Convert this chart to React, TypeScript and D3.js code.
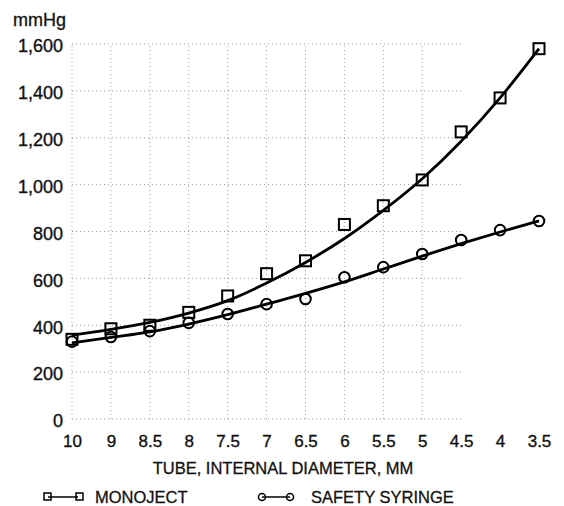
import React, { useEffect, useRef } from "react";
import * as d3 from "d3";

// tube internal diameter, mm (categories, left to right)
const diameters = ["10", "9", "8.5", "8", "7.5", "7", "6.5", "6", "5.5", "5", "4.5", "4", "3.5"];

// measured pressures, mmHg
const monoject = [340, 385, 400, 455, 525, 620, 675, 830, 910, 1020, 1225, 1370, 1580];
const safetySyringe = [330, 350, 375, 410, 448, 490, 512, 605, 648, 704, 764, 806, 845];

// fitted curves
const monojectFit = [358, 382, 412, 452, 505, 580, 668, 770, 890, 1025, 1185, 1370, 1580];
const safetyFit = [325, 348, 372, 405, 445, 490, 536, 585, 640, 695, 748, 798, 845];

const yTicks = [0, 200, 400, 600, 800, 1000, 1200, 1400, 1600];

const FONT = "'Liberation Sans', Arial, sans-serif";

const Chart = () => {
    const svgRef = useRef<SVGSVGElement>(null);

    useEffect(() => {
        const svg = d3.select(svgRef.current);
        svg.selectAll("*").remove();

        const x = d3.scalePoint().domain(diameters).range([72, 539]);
        const y = d3.scaleLinear().domain([0, 1600]).range([419, 44]);
        const gridRight = x("4.5") as number;

        // dotted grid
        const grid = svg.append("g").attr("stroke", "#9a9a9a").attr("stroke-width", 1).attr("stroke-dasharray", "1,3");
        grid.selectAll("line.h")
            .data(yTicks)
            .join("line")
            .attr("x1", x("10") as number)
            .attr("x2", gridRight)
            .attr("y1", (d) => y(d))
            .attr("y2", (d) => y(d));
        grid.selectAll("line.v")
            .data(diameters.slice(0, 10))
            .join("line")
            .attr("x1", (d) => x(d) as number)
            .attr("x2", (d) => x(d) as number)
            .attr("y1", y(0))
            .attr("y2", y(1600));

        // y axis
        const yAxis = svg
            .append("g")
            .attr("transform", `translate(${x("10")},0)`)
            .call(d3.axisLeft(y).tickValues(yTicks).tickSize(0).tickPadding(9).tickFormat(d3.format(",")));
        yAxis.select(".domain").remove();
        yAxis.selectAll("text")
            .attr("font-family", FONT)
            .attr("font-size", 18)
            .attr("fill", "#111")
            .attr("stroke", "#111")
            .attr("stroke-width", 0.35)
            .attr("y", 2);

        // x axis
        const xAxis = svg
            .append("g")
            .attr("transform", `translate(0,${y(0)})`)
            .call(d3.axisBottom(x).tickSize(0).tickPadding(16));
        xAxis.select(".domain").remove();
        xAxis.selectAll("text")
            .attr("font-family", FONT)
            .attr("font-size", 17)
            .attr("fill", "#111")
            .attr("stroke", "#111")
            .attr("stroke-width", 0.35);

        const label = (t: string, tx: number, ty: number, size: number, anchor = "start") =>
            svg.append("text")
                .attr("x", tx)
                .attr("y", ty)
                .attr("text-anchor", anchor)
                .attr("font-family", FONT)
                .attr("font-size", size)
                .attr("fill", "#111")
                .attr("stroke", "#111")
                .attr("stroke-width", 0.3)
                .text(t);

        label("mmHg", 13, 26, 18);
        label("TUBE, INTERNAL DIAMETER, MM", 283, 474, 16.5, "middle");

        // fitted curves
        const line = d3
            .line<number>()
            .x((_, i) => x(diameters[i]) as number)
            .y((d) => y(d))
            .curve(d3.curveMonotoneX);

        svg.append("path").attr("d", line(monojectFit)).attr("fill", "none").attr("stroke", "#000").attr("stroke-width", 2.8);
        svg.append("path").attr("d", line(safetyFit)).attr("fill", "none").attr("stroke", "#000").attr("stroke-width", 2.8);

        // markers
        const s = 11;
        svg.append("g")
            .selectAll("rect")
            .data(monoject)
            .join("rect")
            .attr("x", (_, i) => (x(diameters[i]) as number) - s / 2)
            .attr("y", (d) => y(d) - s / 2)
            .attr("width", s)
            .attr("height", s)
            .attr("fill", "none")
            .attr("stroke", "#000")
            .attr("stroke-width", 2);

        svg.append("g")
            .selectAll("circle")
            .data(safetySyringe)
            .join("circle")
            .attr("cx", (_, i) => x(diameters[i]) as number)
            .attr("cy", (d) => y(d))
            .attr("r", 5.3)
            .attr("fill", "none")
            .attr("stroke", "#000")
            .attr("stroke-width", 2);

        // legend
        const leg = svg.append("g").attr("stroke", "#000").attr("fill", "none").attr("stroke-width", 1.5);
        leg.append("line").attr("x1", 48).attr("x2", 78).attr("y1", 497).attr("y2", 497);
        leg.append("rect").attr("x", 44).attr("y", 493).attr("width", 7).attr("height", 7);
        leg.append("rect").attr("x", 76).attr("y", 493).attr("width", 7).attr("height", 7);
        leg.append("line").attr("x1", 262).attr("x2", 290).attr("y1", 497).attr("y2", 497);
        leg.append("circle").attr("cx", 262).attr("cy", 497).attr("r", 3.5);
        leg.append("circle").attr("cx", 290).attr("cy", 497).attr("r", 3.5);

        label("MONOJECT", 95, 503, 16.5);
        label("SAFETY SYRINGE", 311, 503, 16.5);
    }, []);

    return (
        <svg
            ref={svgRef}
            width={564}
            height={506}
            style={{ position: "absolute", left: 0, top: 0, background: "#fff" }}
        ></svg>
    );
};

export default function App() {
    return <Chart />;
}
